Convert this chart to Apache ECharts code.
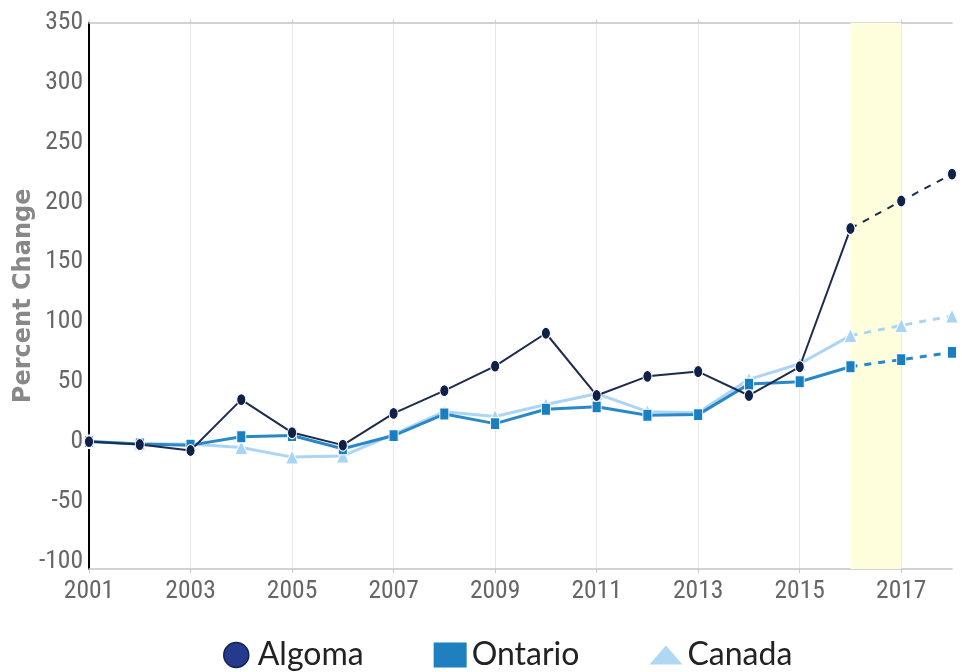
<!DOCTYPE html>
<html>
<head>
<meta charset="utf-8">
<script src="https://cdn.jsdelivr.net/npm/echarts@6/dist/echarts.min.js"></script>
<style>
html,body{margin:0;padding:0;background:#fff;}
#chart{width:962px;height:672px;}
</style>
</head>
<body>
<div id="chart"></div>
<script>
const years = ['2001','2002','2003','2004','2005','2006','2007','2008','2009','2010','2011','2012','2013','2014','2015','2016','2017','2018'];
const algoma  = [0, -2.5, -7.5, 35, 7.5, -3, 23.5, 42.5, 63, 90.5, 38.5, 54.5, 58.5, 38.5, 62.5, 178, 201, 223.5];
const ontario = [0, -2, -3, 4, 5, -6, 5, 23, 15, 27, 29, 22, 22.5, 48, 50, 62.5, 68.5, 74.5];
const canada  = [0, -2, -2, -5, -13, -12, 6, 25, 21, 31, 40, 25, 24, 52, 65, 88.5, 97, 105];
const yTicks = [-100, -50, 0, 50, 100, 150, 200, 250, 300, 350];
const projectionStart = '2016';
const highlightEnd = '2017';

const splitIdx = years.indexOf(projectionStart);
const solidPart = arr => arr.map((v, i) => i <= splitIdx ? v : null);
const dashPart  = arr => arr.map((v, i) => i >= splitIdx ? v : null);

// pick the narrowest available condensed font for tick labels
const cv = document.createElement('canvas').getContext('2d');
function available(f) {
  const s = 'mmmmmmmmmmlli2001WQ';
  for (const base of ['monospace', 'serif']) {
    cv.font = '72px ' + base; const w0 = cv.measureText(s).width;
    cv.font = "72px '" + f + "', " + base; const w1 = cv.measureText(s).width;
    if (Math.abs(w0 - w1) > 0.5) return true;
  }
  return false;
}
const candidates = ['Liberation Sans Narrow', 'Arial Narrow', 'Roboto Condensed', 'Open Sans Condensed', 'Noto Sans Condensed', 'DejaVu Sans Condensed', 'Liberation Sans'];
let tickFont = 'sans-serif';
for (const f of candidates) { if (available(f)) { tickFont = f; break; } }
cv.font = "26px '" + tickFont + "'";
let tickSize = 1.12 * 26 * 45 / cv.measureText('2001').width;
tickSize = Math.max(18, Math.min(28, tickSize));
const tickFamily = "'" + tickFont + "', sans-serif";

const cAlgoma = '#1c2b50', cAlgomaMark = '#0f2148';
const cOntario = '#2a88c6', cOntarioMark = '#1a7fc0';
const cCanada = '#acd5f5', cCanadaMark = '#a9d4f4';

function mk(name, data, color, markColor, symbol, size, width, dashed, z) {
  return {
    name: name, type: 'line', data: data, z: z,
    symbol: symbol, symbolSize: size, showAllSymbol: true,
    lineStyle: { color: color, width: width, type: dashed ? [7, 7] : 'solid' },
    itemStyle: { color: markColor, borderColor: '#fff', borderWidth: 1 },
    emphasis: { disabled: true },
    connectNulls: false
  };
}

const chart = echarts.init(document.getElementById('chart'), null, { renderer: 'canvas' });
chart.setOption({
  animation: false,
  backgroundColor: '#fff',
  grid: { left: 89, right: 10, top: 22.7, bottom: 103, containLabel: false, outerBoundsMode: 'none' },
  legend: {
    left: 223, top: 639, padding: 0, itemGap: 70,
    itemWidth: 33, itemHeight: 25,
    textStyle: { fontFamily: 'Lato, sans-serif', fontSize: 32, color: '#222', lineHeight: 32 },
    data: [
      { name: 'Algoma', icon: 'circle', itemStyle: { color: '#243a8c', borderColor: '#16204a', borderWidth: 1.5 } },
      { name: 'Ontario', icon: 'rect', itemStyle: { color: '#1f7fbf', borderWidth: 0 } },
      { name: 'Canada', icon: 'path://M0,19L16.5,0L33,19Z', itemStyle: { color: '#b0d8f4', borderWidth: 0 } }
    ]
  },
  xAxis: [
    {
      type: 'category', data: years, boundaryGap: false, position: 'bottom',
      axisLine: { show: true, onZero: false, lineStyle: { color: '#c4c4c4', width: 1.5 } },
      axisTick: { show: true, interval: 1, length: 4, lineStyle: { color: '#c8c8c8' } },
      axisLabel: { interval: 1, fontFamily: tickFamily, fontSize: tickSize, color: '#666', margin: 10 },
      splitLine: { show: true, interval: 1, lineStyle: { color: '#e8e8e8', width: 1 } }
    },
    {
      type: 'category', data: years, boundaryGap: false, position: 'top',
      axisLine: { show: true, onZero: false, lineStyle: { color: '#c4c4c4', width: 1.5 } },
      axisTick: { show: true, interval: 1, length: 3, lineStyle: { color: '#d0d0d0' } },
      axisLabel: { show: false },
      splitLine: { show: false }
    }
  ],
  yAxis: {
    type: 'value', min: -106.5, max: 350,
    axisLine: { show: true, onZero: false, lineStyle: { color: '#000', width: 2 } },
    axisTick: { show: false },
    splitLine: { show: false },
    axisLabel: { customValues: yTicks, fontFamily: tickFamily, fontSize: tickSize, color: '#666', margin: 6 },
    name: 'Percent Change', nameLocation: 'middle', nameGap: 53, nameRotate: 90, nameMoveOverlap: false,
    nameTextStyle: { fontFamily: 'DejaVu Sans', fontWeight: 'bold', fontSize: 24, color: '#888' }
  },
  series: [
    {
      name: 'band', type: 'line', data: years.map(() => null), z: 1, silent: true,
      markArea: {
        silent: true,
        itemStyle: { color: '#fefedd', borderWidth: 0 },
        data: [[{ xAxis: projectionStart }, { xAxis: highlightEnd }]]
      }
    },
    mk('Canada', solidPart(canada), cCanada, cCanadaMark, 'triangle', [13, 14], 3, false, 2),
    mk('Canada', dashPart(canada), cCanada, cCanadaMark, 'triangle', [13, 14], 3, true, 2),
    mk('Ontario', solidPart(ontario), cOntario, cOntarioMark, 'rect', [9, 12], 3, false, 3),
    mk('Ontario', dashPart(ontario), cOntario, cOntarioMark, 'rect', [9, 12], 3, true, 3),
    mk('Algoma', solidPart(algoma), cAlgoma, cAlgomaMark, 'circle', [9, 12], 2, false, 4),
    mk('Algoma', dashPart(algoma), cAlgoma, cAlgomaMark, 'circle', [9, 12], 2, true, 4)
  ]
});
</script>
</body>
</html>
